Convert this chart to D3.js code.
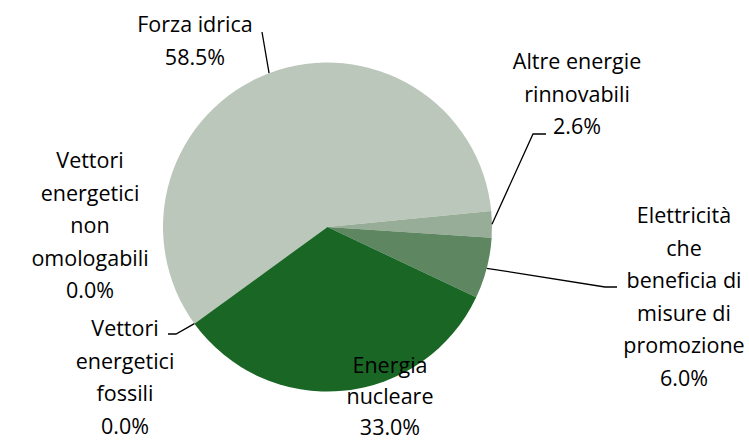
<!DOCTYPE html>
<html>
<head>
<meta charset="utf-8">
<script src="https://cdn.jsdelivr.net/npm/d3@7"></script>
<style>
  body { margin: 0; background: #fff; }
  text { font-family: "Open Sans", sans-serif; font-size: 21.5px; fill: #000; }
</style>
</head>
<body>
<div class="canvas"></div>
<script>
// data
const categories = [
    'Forza idrica',
    'Altre energie rinnovabili',
    'Elettricità che beneficia di misure di promozione',
    'Energia nucleare',
    'Vettori energetici fossili',
    'Vettori energetici non omologabili'
];
const values = [58.5, 2.6, 6.0, 33.0, 0.0, 0.0];
const labelLines = [
    ['Forza idrica'],
    ['Altre energie', 'rinnovabili'],
    ['Elettricità', 'che', 'beneficia di', 'misure di', 'promozione'],
    ['Energia', 'nucleare'],
    ['Vettori', 'energetici', 'fossili'],
    ['Vettori', 'energetici', 'non', 'omologabili']
];
const colors = ['#bcc7bc', '#97ad97', '#5d8661', '#1a6625', '#3d7a45', '#8fa88f'];

const width = 749, height = 442;
const cx = 327.5, cy = 227, radius = 164.5;

const svg = d3.select('.canvas')
    .append('svg')
    .attr('width', width)
    .attr('height', height);

const graph = svg.append('g')
    .attr('transform', `translate(${cx}, ${cy})`);

const startDeg = -126;
const pie = d3.pie()
    .sort(null)
    .value(d => d.value)
    .startAngle(startDeg * Math.PI / 180)
    .endAngle((startDeg + 360) * Math.PI / 180);

const data = categories.map((c, i) => ({ name: c, value: values[i], lines: labelLines[i], color: colors[i] }));
const arcs = pie(data);

const arc = d3.arc().innerRadius(0).outerRadius(radius);

graph.selectAll('path')
    .data(arcs.filter(d => d.value > 0))
    .enter()
    .append('path')
    .attr('d', arc)
    .attr('fill', d => d.data.color);

// label layout (block centre x, first line centre y, line step), leader bend & end
const lineH = 32.5;
const layout = [
    { x: 195, y: 23, h: lineH, bend: null, end: [262, 32] },
    { x: 577, y: 60, h: lineH, bend: [533, 134], end: [546, 134] },
    { x: 684, y: 214, h: lineH, bend: [605, 287], end: [617, 287] },
    { x: 390, y: 364, h: 31, bend: null, end: null },
    { x: 125, y: 327, h: lineH, bend: [176, 334], end: [168, 334] },
    { x: 90, y: 159, h: lineH, bend: null, end: null }
];

const edgePoint = (a) => [cx + radius * Math.sin(a), cy - radius * Math.cos(a)];

arcs.forEach((d, i) => {
    const l = layout[i];
    const lines = d.data.lines.concat([d.data.value.toFixed(1) + '%']);
    const t = svg.append('text')
        .attr('text-anchor', 'middle')
        .attr('dominant-baseline', 'central');
    lines.forEach((s, j) => {
        t.append('tspan')
            .attr('x', l.x)
            .attr('y', l.y + j * l.h)
            .text(s);
    });

    if (l.end) {
        const mid = d.value > 0 ? (d.startAngle + d.endAngle) / 2 : d.startAngle;
        const p = edgePoint(mid);
        const pts = [p];
        if (l.bend) pts.push(l.bend);
        pts.push(l.end);
        svg.append('path')
            .attr('d', d3.line()(pts))
            .attr('fill', 'none')
            .attr('stroke', '#000')
            .attr('stroke-width', 1.3);
    }
});
</script>
</body>
</html>
